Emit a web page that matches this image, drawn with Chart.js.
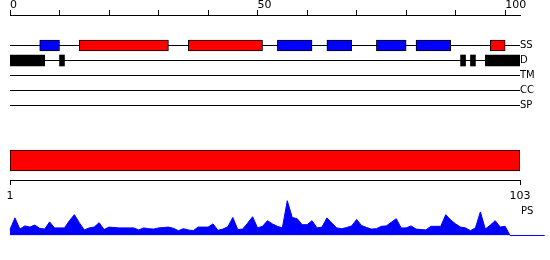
<!DOCTYPE html>
<html><head><meta charset="utf-8">
<script src="https://cdn.jsdelivr.net/npm/chart.js@4/dist/chart.umd.min.js"></script>
<style>
html,body{margin:0;padding:0;background:#fff;}
#wrap{position:relative;width:550px;height:260px;overflow:hidden;background:#fff;}
canvas{position:absolute;left:0;}
</style></head><body>
<div id="wrap">
<canvas id="ruler" width="550" height="30" style="top:0px"></canvas>
<canvas id="tracks" width="550" height="90" style="top:30px"></canvas>
<canvas id="seq" width="550" height="65" style="top:140px"></canvas>
<canvas id="ps" width="550" height="65" style="top:195px"></canvas>
</div>
<script>
// ---- data ----
const seqLength = 103;
const rulerTicks = [0,10,20,30,40,50,60,70,80,90,100];
const rulerLabels = ['0','','','','','50','','','','','100'];
const trackNames = ['SS','D','TM','CC','SP'];
const ssHelix  = [[14,32],[36,51],[97,100]];
const ssStrand = [[6,10],[54,61],[64,69],[74,80],[82,89]];
const disorder = [[0,7],[10,11],[91,92],[93,94],[96,103]];
const domainSpan = [1,103];
const seqTicks = [1,103];
const psLabel = 'PS';
const psLabelAt = 0.61;
const psValues = [
 0.15,0.44,0.16,0.24,0.21,0.26,0.18,0.16,0.34,0.19,
 0.19,0.19,0.37,0.52,0.32,0.14,0.19,0.21,0.32,0.15,
 0.21,0.20,0.19,0.19,0.19,0.19,0.14,0.19,0.17,0.16,
 0.19,0.20,0.21,0.18,0.12,0.17,0.14,0.12,0.21,0.21,
 0.21,0.29,0.13,0.16,0.22,0.45,0.15,0.16,0.31,0.47,
 0.19,0.23,0.37,0.29,0.23,0.19,0.87,0.45,0.42,0.27,
 0.27,0.37,0.19,0.21,0.44,0.31,0.19,0.17,0.20,0.24,
 0.40,0.25,0.20,0.16,0.17,0.23,0.24,0.33,0.42,0.19,
 0.19,0.24,0.16,0.15,0.14,0.23,0.23,0.23,0.52,0.39,
 0.29,0.21,0.19,0.12,0.19,0.59,0.16,0.26,0.37,0.21,
 0.23,0,0,0,0,0,0,0,0
];

Chart.defaults.font.family = "'DejaVu Sans'";
Chart.defaults.font.size = 11;
Chart.defaults.color = '#000';
const base = {responsive:false, animation:false, devicePixelRatio:1,
  plugins:{legend:{display:false}, tooltip:{enabled:false}}};

// ---- ruler (top axis) ----
new Chart(document.getElementById('ruler'), {
  type:'line', data:{datasets:[]},
  options:Object.assign({}, base, {
    layout:{padding:{left:10,right:30,top:0,bottom:0}},
    scales:{
      x:{type:'linear', min:0, max:seqLength, position:'top',
        afterBuildTicks(s){ s.ticks = rulerTicks.map(v=>({value:v})); },
        afterFit(s){ s.height = 15; s.paddingLeft = 0; s.paddingRight = 0; },
        grid:{drawOnChartArea:false, drawTicks:true, tickLength:5, color:'#000', lineWidth:1},
        border:{display:true, color:'#000', width:1},
        ticks:{align:'start', padding:-2, autoSkip:false, maxRotation:0, font:{size:11},
          callback:(v,i)=>rulerLabels[i]}
      },
      y:{display:false}
    }
  })
});

// ---- feature tracks ----
const seg = (arr, name) => arr.map(s => ({y:name, x:s}));
new Chart(document.getElementById('tracks'), {
  type:'bar',
  data:{labels:trackNames, datasets:[
    {label:'Helix', data:seg(ssHelix,'SS'), backgroundColor:'#ff0000', borderColor:'#000', borderWidth:1},
    {label:'Strand', data:seg(ssStrand,'SS'), backgroundColor:'#0000ff', borderColor:'#000', borderWidth:1},
    {label:'Disorder', data:seg(disorder,'D'), backgroundColor:'#000', borderColor:'#000', borderWidth:0}
  ]},
  options:Object.assign({}, base, {
    indexAxis:'y',
    layout:{padding:{left:10,right:0,top:8,bottom:7}},
    datasets:{bar:{grouped:false, barThickness:11, borderSkipped:false}},
    scales:{
      x:{type:'linear', min:0, max:seqLength, display:false},
      y:{type:'category', position:'right', offset:true,
        grid:{display:true, drawOnChartArea:true, drawTicks:false, offset:false, color:'#000', lineWidth:1},
        border:{display:false},
        ticks:{padding:0, font:{size:10}},
        afterFit(s){ s.width = 30; s.paddingTop = 0; s.paddingBottom = 0; }
      }
    }
  })
});

// ---- full-length bar + bottom axis ----
new Chart(document.getElementById('seq'), {
  type:'bar',
  data:{labels:['Domain'], datasets:[
    {label:'Domain', data:[domainSpan], backgroundColor:'#ff0000', borderColor:'#000', borderWidth:1,
     barThickness:21, borderSkipped:false}
  ]},
  options:Object.assign({}, base, {
    indexAxis:'y',
    layout:{padding:{left:10,right:30,top:1,bottom:0}},
    scales:{
      x:{type:'linear', min:1, max:seqLength, position:'bottom',
        afterBuildTicks(s){ s.ticks = seqTicks.map(v=>({value:v})); },
        afterFit(s){ s.height = 25; s.paddingLeft = 0; s.paddingRight = 0; },
        grid:{drawOnChartArea:false, drawTicks:true, tickLength:5, color:'#000', lineWidth:1},
        border:{display:true, color:'#000', width:1},
        ticks:{padding:5, autoSkip:false, maxRotation:0, font:{size:11}, callback:v=>String(v)}
      },
      y:{display:false}
    }
  })
});

// ---- PS profile ----
new Chart(document.getElementById('ps'), {
  type:'line',
  data:{datasets:[{label:psLabel, data:psValues.map((v,i)=>({x:i, y:v})),
    borderColor:'#0000ff', backgroundColor:'#0000ff', borderWidth:1, fill:'origin',
    pointRadius:0, tension:0, clip:false}]},
  options:Object.assign({}, base, {
    layout:{padding:{left:10,right:0,top:0.5,bottom:24.5}},
    scales:{
      x:{type:'linear', display:false, bounds:'data',
        afterDataLimits(s){ s.min = 0; s.max = seqLength; }},
      y:{type:'linear', min:0, max:1, position:'right',
        afterBuildTicks(s){ s.ticks = [{value:psLabelAt}]; },
        afterFit(s){ s.width = 30; s.paddingTop = 0; s.paddingBottom = 0; },
        grid:{display:false, drawTicks:false}, border:{display:false},
        ticks:{padding:1, font:{size:10}, callback:()=>psLabel}
      }
    }
  })
});
</script>
</body></html>
